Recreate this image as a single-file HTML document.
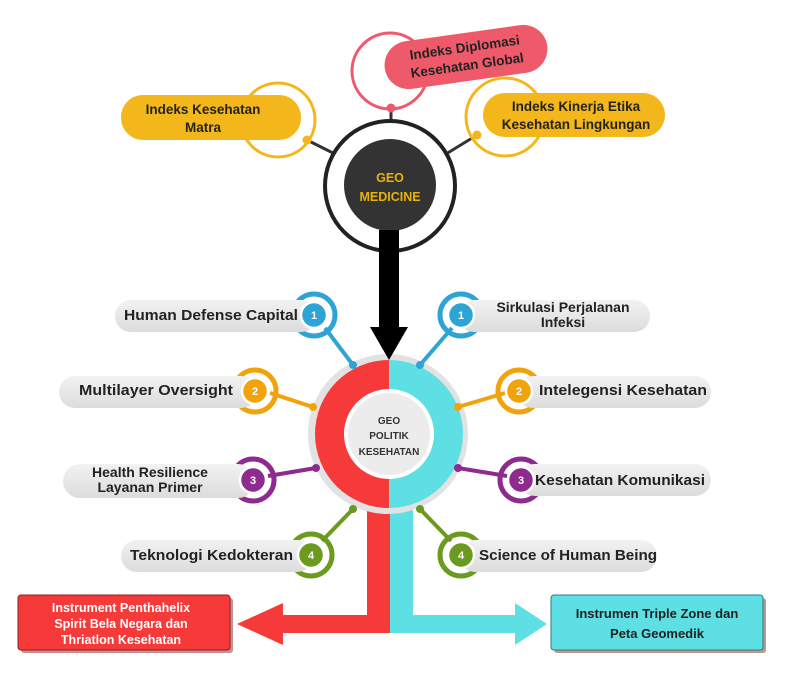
<!DOCTYPE html>
<html><head><meta charset="utf-8"><style>
html,body{margin:0;padding:0;background:#fff;}
svg{display:block;}
text{font-family:"Liberation Sans",sans-serif;font-weight:bold;}
</style></head><body>
<svg width="800" height="673" viewBox="0 0 800 673" xmlns="http://www.w3.org/2000/svg">
<defs>
<linearGradient id="pg" x1="0" y1="0" x2="0" y2="1"><stop offset="0" stop-color="#f2f2f2"/><stop offset="1" stop-color="#dcdcdc"/></linearGradient>
</defs>

<line x1="307" y1="140" x2="335" y2="154" stroke="#333" stroke-width="3"/>
<line x1="477" y1="135" x2="446" y2="154" stroke="#333" stroke-width="3"/>
<line x1="391" y1="108" x2="391" y2="122" stroke="#333" stroke-width="3"/>

<circle cx="390" cy="71" r="38" fill="#fff" stroke="#ef5a6a" stroke-width="3"/>
<g transform="rotate(-8 466 57)">
<rect x="384" y="33" width="164" height="48" rx="24" fill="#ef5a6a"/>
</g>
<circle cx="391" cy="108" r="4.5" fill="#ef5a6a"/>
<text x="466" y="52" font-size="13.5" fill="#222" text-anchor="middle" transform="rotate(-8 466 57)">Indeks Diplomasi</text>
<text x="466" y="70" font-size="13.5" fill="#222" text-anchor="middle" transform="rotate(-8 466 57)">Kesehatan Global</text>

<circle cx="278" cy="120" r="37" fill="#fff" stroke="#f4b71b" stroke-width="3"/>
<rect x="121" y="95" width="180" height="45" rx="22" fill="#f4b71b"/>
<circle cx="307" cy="140" r="4.5" fill="#f4b71b"/>
<text x="203" y="114" font-size="13.5" fill="#222" text-anchor="middle">Indeks Kesehatan</text>
<text x="203" y="132" font-size="13.5" fill="#222" text-anchor="middle">Matra</text>

<circle cx="505" cy="117" r="39" fill="#fff" stroke="#f4b71b" stroke-width="3"/>
<rect x="483" y="93" width="182" height="44" rx="22" fill="#f4b71b"/>
<circle cx="477" cy="135" r="4.5" fill="#f4b71b"/>
<text x="576" y="111" font-size="13.5" fill="#222" text-anchor="middle">Indeks Kinerja Etika</text>
<text x="576" y="129" font-size="13.5" fill="#222" text-anchor="middle">Kesehatan Lingkungan</text>

<circle cx="390" cy="186" r="65" fill="#fff" stroke="#222" stroke-width="4"/>
<circle cx="390" cy="185" r="46" fill="#333"/>
<text x="390" y="182" font-size="12.5" fill="#e8b10c" text-anchor="middle">GEO</text>
<text x="390" y="201" font-size="12.5" fill="#e8b10c" text-anchor="middle">MEDICINE</text>

<rect x="367" y="470" width="23" height="163" fill="#f63a3a"/>
<rect x="283" y="615" width="107" height="18" fill="#f63a3a"/>
<polygon points="283,603 283,645 237,624" fill="#f63a3a"/>
<rect x="390" y="470" width="23" height="163" fill="#5ddfe4"/>
<rect x="390" y="615" width="125" height="18" fill="#5ddfe4"/>
<polygon points="515,603 515,645 547,624" fill="#5ddfe4"/>

<circle cx="388" cy="434" r="80" fill="#e2e2e2"/>
<path d="M389,360 A74,74 0 0 0 389,508 Z" fill="#f63a3a"/>
<path d="M389,360 A74,74 0 0 1 389,508 Z" fill="#5ddfe4"/>
<circle cx="389" cy="434" r="45" fill="#fff"/>
<circle cx="389" cy="434" r="41" fill="#ececec"/>
<text x="389" y="424" font-size="10" fill="#333" text-anchor="middle">GEO</text>
<text x="389" y="439" font-size="10" fill="#333" text-anchor="middle">POLITIK</text>
<text x="389" y="455" font-size="10" fill="#333" text-anchor="middle">KESEHATAN</text>

<rect x="379" y="230" width="20" height="98" fill="#000"/>
<polygon points="370,327 408,327 389,360" fill="#000"/>

<g stroke-width="4">
<line x1="325" y1="328" x2="353" y2="365" stroke="#2ea4d6"/>
<line x1="452" y1="328" x2="420" y2="365" stroke="#2ea4d6"/>
<line x1="270" y1="393" x2="313" y2="407" stroke="#f0a30a"/>
<line x1="505" y1="393" x2="458" y2="407" stroke="#f0a30a"/>
<line x1="268" y1="476" x2="316" y2="468" stroke="#8e2b8e"/>
<line x1="507" y1="476" x2="458" y2="468" stroke="#8e2b8e"/>
<line x1="322" y1="541" x2="353" y2="509" stroke="#6a9a1e"/>
<line x1="451" y1="541" x2="420" y2="509" stroke="#6a9a1e"/>
</g>
<g>
<circle cx="353" cy="365" r="4" fill="#2ea4d6"/><circle cx="420" cy="365" r="4" fill="#2ea4d6"/>
<circle cx="313" cy="407" r="4" fill="#f0a30a"/><circle cx="458" cy="407" r="4" fill="#f0a30a"/>
<circle cx="316" cy="468" r="4" fill="#8e2b8e"/><circle cx="458" cy="468" r="4" fill="#8e2b8e"/>
<circle cx="353" cy="509" r="4" fill="#6a9a1e"/><circle cx="420" cy="509" r="4" fill="#6a9a1e"/>
</g>

<g fill="none" stroke-width="5">
<circle cx="314" cy="315" r="21" stroke="#2ea4d6"/>
<circle cx="461" cy="315" r="21" stroke="#2ea4d6"/>
<circle cx="255" cy="391" r="21" stroke="#f0a30a"/>
<circle cx="519" cy="391" r="21" stroke="#f0a30a"/>
<circle cx="253" cy="480" r="21" stroke="#8e2b8e"/>
<circle cx="521" cy="480" r="21" stroke="#8e2b8e"/>
<circle cx="311" cy="555" r="21" stroke="#6a9a1e"/>
<circle cx="461" cy="555" r="21" stroke="#6a9a1e"/>
</g>

<g fill="url(#pg)">
<rect x="115" y="300" width="202" height="32" rx="16"/>
<rect x="458" y="300" width="192" height="32" rx="16"/>
<rect x="59" y="376" width="198" height="32" rx="16"/>
<rect x="517" y="376" width="194" height="32" rx="16"/>
<rect x="63" y="464" width="192" height="34" rx="17"/>
<rect x="519" y="464" width="192" height="32" rx="16"/>
<rect x="121" y="540" width="192" height="32" rx="16"/>
<rect x="459" y="540" width="198" height="32" rx="16"/>
</g>

<g stroke="#fff" stroke-width="2.5">
<circle cx="314" cy="315" r="13" fill="#2ea4d6"/>
<circle cx="461" cy="315" r="13" fill="#2ea4d6"/>
<circle cx="255" cy="391" r="13" fill="#f0a30a"/>
<circle cx="519" cy="391" r="13" fill="#f0a30a"/>
<circle cx="253" cy="480" r="13" fill="#8e2b8e"/>
<circle cx="521" cy="480" r="13" fill="#8e2b8e"/>
<circle cx="311" cy="555" r="13" fill="#6a9a1e"/>
<circle cx="461" cy="555" r="13" fill="#6a9a1e"/>
</g>
<g font-size="11" fill="#fff" text-anchor="middle">
<text x="314" y="319">1</text><text x="461" y="319">1</text>
<text x="255" y="395">2</text><text x="519" y="395">2</text>
<text x="253" y="484">3</text><text x="521" y="484">3</text>
<text x="311" y="559">4</text><text x="461" y="559">4</text>
</g>

<g font-size="14.5" fill="#222">
<text x="124" y="320" textLength="174" lengthAdjust="spacingAndGlyphs">Human Defense Capital</text>
<text x="79" y="395" textLength="154" lengthAdjust="spacingAndGlyphs">Multilayer Oversight</text>
<text x="539" y="395" textLength="168" lengthAdjust="spacingAndGlyphs">Intelegensi Kesehatan</text>
<text x="535" y="485" textLength="170" lengthAdjust="spacingAndGlyphs">Kesehatan Komunikasi</text>
<text x="130" y="560" textLength="163" lengthAdjust="spacingAndGlyphs">Teknologi Kedokteran</text>
<text x="479" y="560" textLength="178" lengthAdjust="spacingAndGlyphs">Science of Human Being</text>
</g>
<g font-size="14" fill="#222" text-anchor="middle">
<text x="563" y="312">Sirkulasi Perjalanan</text>
<text x="563" y="327">Infeksi</text>
<text x="150" y="477">Health Resilience</text>
<text x="150" y="492">Layanan Primer</text>
</g>

<rect x="21" y="598" width="212" height="55" rx="3" fill="#c98e8e"/>
<rect x="18" y="595" width="212" height="55" rx="3" fill="#f63a3a" stroke="#8a1f1f" stroke-width="1"/>
<g font-size="12.5" fill="#fff" text-anchor="middle">
<text x="121" y="612">Instrument Penthahelix</text>
<text x="121" y="628">Spirit Bela Negara dan</text>
<text x="121" y="644">Thriatlon Kesehatan</text>
</g>
<rect x="554" y="598" width="212" height="55" rx="3" fill="#b89a8e"/>
<rect x="551" y="595" width="212" height="55" rx="3" fill="#5ddfe4" stroke="#2f7a7e" stroke-width="1"/>
<g font-size="13" fill="#222" text-anchor="middle">
<text x="657" y="618">Instrumen Triple Zone dan</text>
<text x="657" y="638">Peta Geomedik</text>
</g>
</svg>
</body></html>
